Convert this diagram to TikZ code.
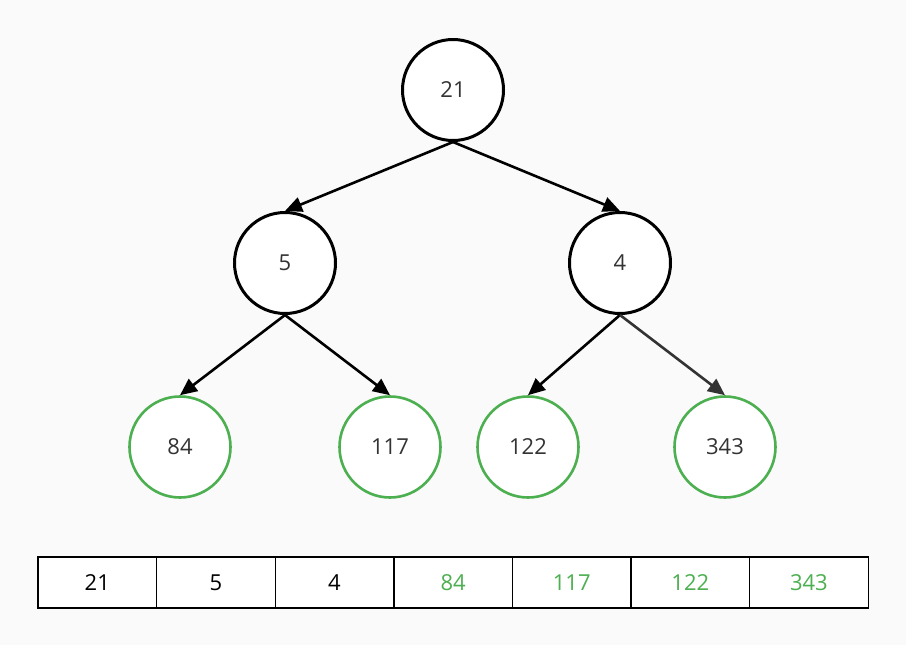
\documentclass[tikz,border=0pt]{standalone}
\usepackage{fontspec}
\setmainfont{Open Sans}
\usetikzlibrary{arrows.meta}
\definecolor{bg}{HTML}{FAFAFA}
\definecolor{grn}{HTML}{4CAF50}
\definecolor{txt}{HTML}{333333}
\tikzset{
  tnode/.style={circle, draw=black, line width=3pt, fill=white, minimum size=101pt, inner sep=0pt, text=txt, font=\fontsize{22}{26}\selectfont},
  leaf/.style={tnode, draw=grn, line width=2.6pt},
  edge/.style={line width=2.6pt, -{Triangle[length=17pt,width=15pt]}},
  cell/.style={draw=black, line width=1.4pt, fill=white, minimum width=118.6pt, minimum height=51pt, inner sep=0pt, font=\fontsize{22}{26}\selectfont},
}
\begin{document}
\begin{tikzpicture}[x=1pt,y=-1pt]
\fill[bg] (0,0) rectangle (906,645);
\useasboundingbox (0,0) rectangle (906,645);
\node[tnode] (r) at (453,90) {21};
\node[tnode] (a) at (285,263) {5};
\node[tnode] (b) at (620,263) {4};
\node[leaf] (l1) at (180,447) {84};
\node[leaf] (l2) at (390,447) {117};
\node[leaf] (l3) at (528,447) {122};
\node[leaf] (l4) at (725,447) {343};
\draw[edge] (r.south) -- (a.north);
\draw[edge] (r.south) -- (b.north);
\draw[edge] (a.south) -- (l1.north);
\draw[edge] (a.south) -- (l2.north);
\draw[edge] (b.south) -- (l3.north);
\draw[edge, draw=txt, fill=txt] (b.south) -- (l4.north);
\foreach \t/\c [count=\i from 0] in {21/black,5/black,4/black,84/grn,117/grn,122/grn,343/grn}{
  \node[cell, text=\c] (c\i) at ({38+59.3+118.6*\i},582.5) {\t};
}
\end{tikzpicture}
\end{document}
